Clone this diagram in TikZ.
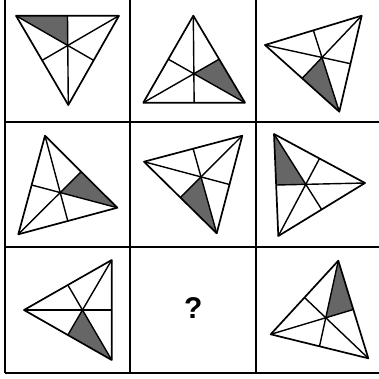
\documentclass[tikz,border=0pt]{standalone}
\usepackage{fontspec}
\setmainfont{Liberation Sans}
\usetikzlibrary{calc}

\begin{document}
\begin{tikzpicture}[x=1pt,y=-1pt]

    % Fix the page to the size of the reference
    \useasboundingbox (0,0) rectangle (379,378);

    % Draw the grid (no top and no right border)
    \draw[line width=1.5pt] (5,0) -- (5,373);
    \draw[line width=1.5pt] (130,0) -- (130,373);
    \draw[line width=1.5pt] (256,0) -- (256,373);
    \draw[line width=1.5pt] (5,122) -- (379,122);
    \draw[line width=1.5pt] (5,247) -- (379,247);
    \draw[line width=1.5pt] (5,373) -- (379,373);

    % Define the vertices A, B, C of each triangle
    \coordinate (A1) at (16,15.7);    \coordinate (B1) at (119,15.7);   \coordinate (C1) at (68.3,105);
    \coordinate (A2) at (193.3,15.7); \coordinate (B2) at (143.3,102.7);\coordinate (C2) at (245,102.7);
    \coordinate (A3) at (265,45);     \coordinate (B3) at (361.7,15.7); \coordinate (C3) at (339.3,111.7);
    \coordinate (A4) at (45,135.7);   \coordinate (B4) at (117.3,207.7);\coordinate (C4) at (18.3,234.3);
    \coordinate (A5) at (144,161.7);  \coordinate (B5) at (242.3,135.7);\coordinate (C5) at (216.7,233.3);
    \coordinate (A6) at (274,134);    \coordinate (B6) at (365,183);    \coordinate (C6) at (278.3,236);
    \coordinate (A7) at (24,310);     \coordinate (B7) at (111.7,260);  \coordinate (C7) at (111.7,360);
    \coordinate (A9) at (338.3,260.7);\coordinate (B9) at (270.7,334.3);\coordinate (C9) at (368.3,358.3);

    % Shaded piece: vertex V, midpoint of side VW, centroid G
    \foreach \i/\v/\w in {1/A/B, 2/C/A, 3/C/A, 4/B/A, 5/C/A, 6/A/C, 7/C/A, 9/A/C} {
        \coordinate (G\i) at ($1/3*(A\i)+1/3*(B\i)+1/3*(C\i)$);
        \fill[black!60] (\v\i) -- ($(\v\i)!0.5!(\w\i)$) -- (G\i) -- cycle;
    }

    % Draw the triangles and their medians
    \foreach \i in {1,2,3,4,5,6,7,9} {
        \draw[line width=1.7pt, line join=round] (A\i) -- (B\i) -- (C\i) -- cycle;
        \draw[line width=1.4pt] (A\i) -- ($(B\i)!0.5!(C\i)$);
        \draw[line width=1.4pt] (B\i) -- ($(A\i)!0.5!(C\i)$);
        \draw[line width=1.4pt] (C\i) -- ($(A\i)!0.5!(B\i)$);
    }

    % Missing figure
    \node (Q) at (193.3,308.3) {\fontsize{30}{30}\selectfont\bfseries ?};

\end{tikzpicture}
\end{document}
